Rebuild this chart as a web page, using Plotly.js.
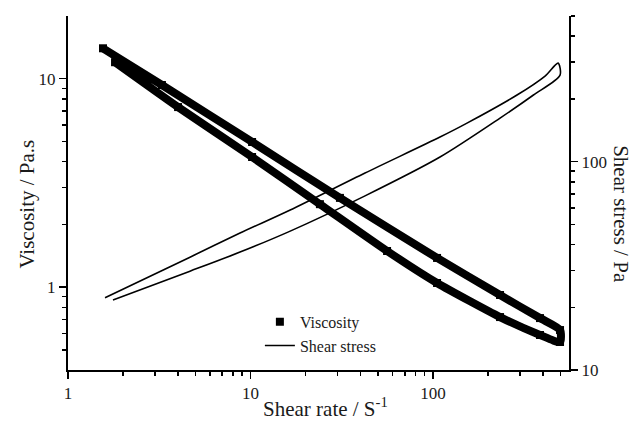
<!DOCTYPE html>
<html>
<head>
<meta charset="utf-8">
<script src="https://cdn.plot.ly/plotly-3.0.1.min.js"></script>
<style>html,body{margin:0;padding:0;background:#fff}#chart{width:634px;height:424px}</style>
</head>
<body>
<div id="chart"></div>
<script>
// Viscosity loop (shear rate up, then down)
const viscRateUp = [1.555, 3.27, 10.2, 30.9, 105.2, 232.9, 385.5, 496.5];
const viscUp = [14.0, 9.33, 4.97, 2.68, 1.38, 0.916, 0.710, 0.622];
const viscRateDown = [496.5, 385.5, 232.9, 105.2, 56.0, 24.0, 10.2, 4.01, 1.81];
const viscDown = [0.545, 0.589, 0.718, 1.046, 1.49, 2.50, 4.21, 7.31, 12.0];

// Shear stress loop
const stressRateUp = [1.595, 4.66, 8.76, 16.5, 42.4, 109.2, 153.5, 288.5, 411, 484];
const stressUp = [22.2, 34.8, 45.4, 58.6, 88.2, 131.2, 153, 208.8, 257.6, 297];
const stressRateDown = [496.5, 355, 232.9, 109.2, 42.4, 16.5, 8.76, 4.66, 1.764];
const stressDown = [260, 208.8, 161.8, 105.2, 68.5, 46.4, 36.8, 29.8, 21.7];

// Tick labels
const xMajor = [1, 10, 100];
const xMinor = [2,3,4,5,6,7,8,9,20,30,40,50,60,70,80,90,200,300,400,500];
const yLeftMajor = [1, 10];
const yLeftMinor = [0.5,0.6,0.7,0.8,0.9,2,3,4,5,6,7,8,9];
const yRightMajor = [10, 100];
const yRightMinor = [20,30,40,50,60,70,80,90,200,300,400,500];

const viscX = viscRateUp.concat(viscRateDown);
const viscY = viscUp.concat(viscDown);
const stressX = stressRateUp.concat(stressRateDown);
const stressY = stressUp.concat(stressDown);

const FONT = 'Liberation Serif, Times New Roman, serif';
const TXT = '#1a1a1a';

const traces = [
  {x: viscX, y: viscY, mode: 'lines', line: {color: '#000', width: 8, shape: 'spline', smoothing: 0.6}, showlegend: false, hoverinfo: 'skip', xaxis: 'x', yaxis: 'y'},
  {x: viscX, y: viscY, mode: 'markers', name: 'Viscosity', marker: {symbol: 'square', size: 8, color: '#000'}, xaxis: 'x', yaxis: 'y'},
  {x: stressX, y: stressY, mode: 'lines', name: 'Shear stress', line: {color: '#000', width: 1.6, shape: 'spline', smoothing: 0.8}, xaxis: 'x', yaxis: 'y2'}
];

const axBase = {
  type: 'log', showgrid: false, zeroline: false, showline: true, linecolor: '#000', linewidth: 2,
  ticks: 'outside', ticklen: 7, tickwidth: 1.5, tickcolor: '#000', tickmode: 'array',
  tickfont: {family: FONT, size: 17, color: TXT}
};

const layout = {
  width: 634, height: 424,
  margin: {l: 68, r: 65, t: 16, b: 54},
  paper_bgcolor: '#fff', plot_bgcolor: '#fff',
  font: {family: FONT, color: TXT},
  xaxis: Object.assign({}, axBase, {range: [0, 2.745], tickvals: xMajor, ticktext: xMajor.map(String),
    minor: {tickvals: xMinor, ticks: 'outside', ticklen: 4, tickwidth: 1.5, tickcolor: '#000'}}),
  yaxis: Object.assign({}, axBase, {range: [Math.log10(0.4), Math.log10(20)], tickvals: yLeftMajor, ticktext: yLeftMajor.map(String),
    minor: {tickvals: yLeftMinor, ticks: 'outside', ticklen: 4, tickwidth: 1.5, tickcolor: '#000'}}),
  yaxis2: Object.assign({}, axBase, {overlaying: 'y', side: 'right', range: [1, Math.log10(500)], tickvals: yRightMajor, ticktext: yRightMajor.map(String),
    minor: {tickvals: yRightMinor, ticks: 'outside', ticklen: 4, tickwidth: 1.5, tickcolor: '#000'}}),
  showlegend: true,
  legend: {x: 0.383, y: 0.184, xanchor: 'left', yanchor: 'top', bgcolor: 'rgba(0,0,0,0)',
    font: {family: FONT, size: 16, color: TXT}, tracegroupgap: 0},
  annotations: [
    {text: 'Viscosity / Pa.s', xref: 'paper', yref: 'paper', x: -0.082, y: 0.47, textangle: -90, showarrow: false,
      xanchor: 'center', yanchor: 'middle', font: {family: FONT, size: 21, color: TXT}},
    {text: 'Shear stress / Pa', xref: 'paper', yref: 'paper', x: 1.104, y: 0.44, textangle: 90, showarrow: false,
      xanchor: 'center', yanchor: 'middle', font: {family: FONT, size: 21, color: TXT}},
    {text: 'Shear rate / S<sup>-1</sup>', xref: 'paper', yref: 'paper', x: 0.513, y: -0.107, showarrow: false,
      xanchor: 'center', yanchor: 'middle', font: {family: FONT, size: 21, color: TXT}}
  ]
};

Plotly.newPlot('chart', traces, layout, {displayModeBar: false, staticPlot: true});
</script>
</body>
</html>
